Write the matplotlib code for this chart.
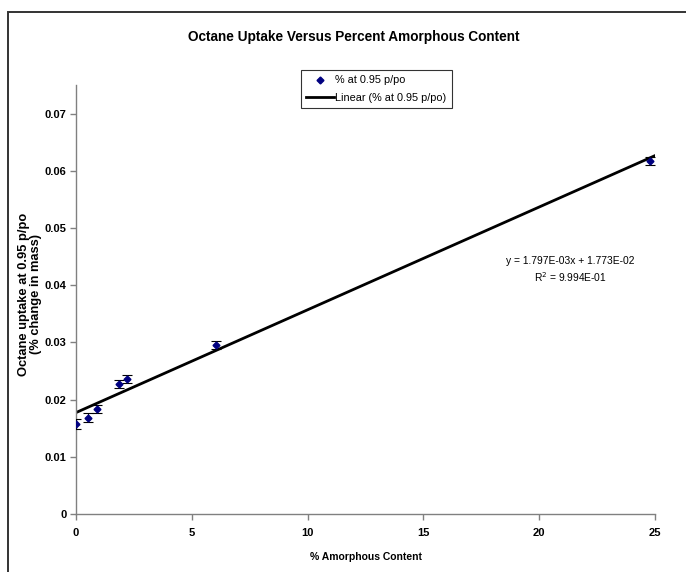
import matplotlib
matplotlib.use("Agg")
import matplotlib.pyplot as plt
from matplotlib.patches import Rectangle
from matplotlib.lines import Line2D
import numpy as np

plt.rcParams['font.family'] = ['Liberation Sans', 'DejaVu Sans']

amorphous = [0.0, 0.53, 0.92, 1.86, 2.19, 6.03, 24.8]
uptake = [0.0157, 0.0168, 0.0184, 0.0228, 0.0236, 0.0296, 0.0618]
uptake_err = [0.0009, 0.0008, 0.0007, 0.0007, 0.0007, 0.0007, 0.0007]
slope = 1.797e-03
intercept = 1.773e-02
x_ticks = [0, 5, 10, 15, 20, 25]
y_ticks = [0, 0.01, 0.02, 0.03, 0.04, 0.05, 0.06, 0.07]
y_tick_labels = ["0", "0.01", "0.02", "0.03", "0.04", "0.05", "0.06", "0.07"]

fig = plt.figure(figsize=(6.86, 5.72), dpi=100)
fig.patches.append(Rectangle((8/686, -0.05), 1.1, 1.05 - 12/572, transform=fig.transFigure,
                             fill=False, edgecolor='#333333', linewidth=1.4, zorder=0))
ax = fig.add_axes([76/686, 1 - 514/572, (655-76)/686, (514-85)/572])

xl = np.array([0, 25])
ax.plot(xl, slope * xl + intercept, color='black', linewidth=2.0, zorder=2)
ax.errorbar(amorphous, uptake, yerr=uptake_err, fmt='D', color='#000080', markersize=3.5,
            ecolor='black', elinewidth=0.8, capsize=3.5, capthick=0.8, zorder=3)

ax.set_xlim(0, 25)
ax.set_ylim(0, 0.075)
ax.set_xticks(x_ticks)
ax.set_yticks(y_ticks)
ax.set_yticklabels(y_tick_labels)
for s in ['top', 'right']:
    ax.spines[s].set_visible(False)
for s in ['left', 'bottom']:
    ax.spines[s].set_color('#808080')
    ax.spines[s].set_linewidth(1.0)
ax.tick_params(direction='out', length=4, width=1, color='#808080', labelsize=8, pad=3)
ax.tick_params(axis='x', pad=6)
for lab in ax.get_xticklabels() + ax.get_yticklabels():
    lab.set_fontweight('bold')

ax.set_xlabel('% Amorphous Content', fontsize=7.5, fontweight='bold', labelpad=10)
ax.set_ylabel('Octane uptake at 0.95 p/po\n(% change in mass)', fontsize=9.3,
              fontweight='bold', linespacing=1.05)
ax.yaxis.set_label_coords((42 - 76) / 579, (514 - 294) / 429)
fig.text(354 / 686, 1 - 37/572, 'Octane Uptake Versus Percent Amorphous Content',
         ha='center', va='center', fontsize=9.8, fontweight='bold')

h_pts = Line2D([], [], linestyle='none', marker='D', color='#000080', markersize=3.5)
h_line = Line2D([], [], color='black', linewidth=2.0)
leg = ax.legend([h_pts, h_line], ['% at 0.95 p/po', 'Linear (% at 0.95 p/po)'],
                loc='upper left', bbox_to_anchor=((301-76)/579, 1 + (85-70)/429),
                fontsize=7.8, frameon=True, fancybox=False, edgecolor='black',
                borderpad=0.5, handlelength=2.5, handletextpad=0.15, labelspacing=0.7,
                borderaxespad=0)
leg.get_frame().set_linewidth(0.8)

ax.text(21.33, 0.0443, 'y = 1.797E-03x + 1.773E-02', ha='center', va='center', fontsize=7.4)
ax.text(21.33, 0.0414, 'R$^2$ = 9.994E-01', ha='center', va='center', fontsize=7.4)

fig.savefig('out.png', dpi=100)
